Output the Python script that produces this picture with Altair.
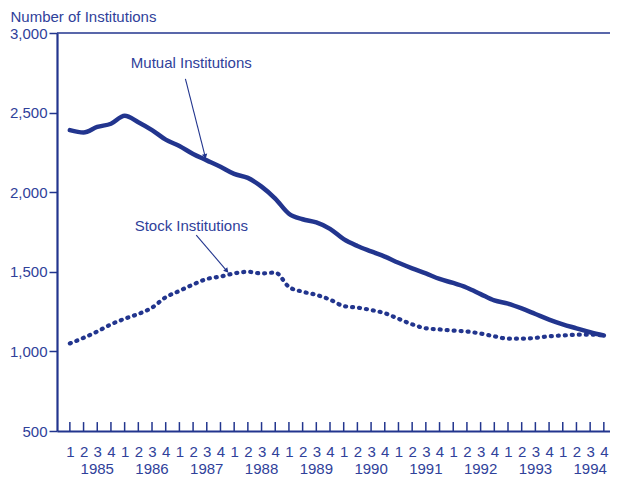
import altair as alt
import pandas as pd

years = [str(y) for y in range(1985, 1995)]
quarters = [1, 2, 3, 4]

mutual = [2390, 2375, 2410, 2430,
          2480, 2440, 2390, 2330,
          2290, 2240, 2200, 2160,
          2115, 2090, 2035, 1960,
          1865, 1830, 1810, 1770,
          1705, 1662, 1628, 1595,
          1557, 1522, 1490, 1455,
          1430, 1400, 1360, 1320,
          1300, 1270, 1235, 1200,
          1170, 1145, 1120, 1100]

stock = [1050, 1085, 1125, 1170,
         1205, 1235, 1275, 1340,
         1380, 1420, 1455, 1470,
         1490, 1500, 1490, 1495,
         1405, 1375, 1355, 1325,
         1285, 1275, 1260, 1240,
         1205, 1170, 1145, 1138,
         1131, 1125, 1112, 1095,
         1080, 1080, 1085, 1095,
         1100, 1105, 1105, 1100]

y_ticks = [500, 1000, 1500, 2000, 2500, 3000]

# annotation labels (x in quarter index units, y in data units)
ann_text = ["Mutual Institutions", "Stock Institutions"]
ann_x = [8.87, 8.87]
ann_y = [2810, 1790]
arrow_x = [8.44, 9.23]
arrow_y = [2712, 1731]
arrow_x2 = [9.88, 11.46]
arrow_y2 = [2225, 1506]
arrow_angle = [345.6, 319.3]

NAVY = "#22358e"
TXT = "#2f419a"
FONT = "Liberation Sans"

n = len(mutual)
idx = list(range(n))
df = pd.DataFrame({
    "i": idx * 2,
    "value": mutual + stock,
    "series": ["Mutual"] * n + ["Stock"] * n,
})
qdf = pd.DataFrame({"i": idx, "lo": [500] * n, "hi": [556] * n})
ydf = pd.DataFrame({"year": years, "i": [4 * k + 2 for k in range(len(years))]})
adf = pd.DataFrame({"text": ann_text, "x": ann_x, "y": ann_y,
                    "ax": arrow_x, "ay": arrow_y, "ax2": arrow_x2, "ay2": arrow_y2,
                    "ang": arrow_angle})
topdf = pd.DataFrame({"v": [3000]})

W, H = 553, 398
xscale = alt.Scale(domain=[-0.94, 39.45], nice=False, zero=False)
yscale = alt.Scale(domain=[500, 3000], nice=False, zero=False)

x_axis = alt.Axis(values=idx, labelExpr="(datum.value % 4) + 1", ticks=False,
                  domain=True, domainColor=NAVY, domainWidth=2.2, grid=False,
                  labelFont=FONT, labelFontSize=15, labelColor=TXT, labelPadding=13,
                  labelFlush=False, labelOverlap=False, labelBound=False, title=None)
y_axis = alt.Axis(values=y_ticks, format=",.0f", ticks=True, tickSize=8, tickColor=NAVY,
                  tickWidth=1.5, domain=True, domainColor=NAVY, domainWidth=2.2,
                  grid=False, labelFont=FONT, labelFontSize=15, labelColor=TXT,
                  labelPadding=2, labelFlush=False, labelOverlap=False,
                  title="Number of Institutions", titleAngle=0,
                  titleAlign="left", titleBaseline="alphabetic", titleX=-47, titleY=-12,
                  titleFont=FONT, titleFontSize=15, titleFontWeight="normal",
                  titleColor=TXT)

X = lambda f: alt.X(f, scale=xscale, axis=x_axis)
Y = lambda f: alt.Y(f, scale=yscale, axis=y_axis)

mut = alt.Chart(df).transform_filter(alt.datum.series == "Mutual").mark_line(
    color=NAVY, strokeWidth=4.5, interpolate="monotone", strokeCap="round"
).encode(x=X("i:Q"), y=Y("value:Q"))

stk = alt.Chart(df).transform_filter(alt.datum.series == "Stock").mark_line(
    color=NAVY, strokeWidth=4.2, interpolate="monotone", strokeCap="round",
    strokeDash=[1, 6]
).encode(x=X("i:Q"), y=Y("value:Q"))

qticks = alt.Chart(qdf).mark_rule(color=NAVY, strokeWidth=1.5).encode(
    x=X("i:Q"), y=Y("lo:Q"), y2="hi:Q")

top = alt.Chart(topdf).mark_rule(color=NAVY, strokeWidth=1.6).encode(y=Y("v:Q"))

yrs = alt.Chart(ydf).mark_text(font=FONT, fontSize=15, color=TXT, baseline="middle",
                               dx=0).encode(
    x=X("i:Q"), y=alt.value(H + 38), text="year:N")

labels = alt.Chart(adf).mark_text(font=FONT, fontSize=15, color=TXT,
                                  baseline="middle").encode(
    x=X("x:Q"), y=Y("y:Q"), text="text:N")

arrows = alt.Chart(adf).mark_rule(color=NAVY, strokeWidth=1.1).encode(
    x=X("ax:Q"), y=Y("ay:Q"), x2="ax2:Q", y2="ay2:Q")

heads = alt.Chart(adf).mark_point(shape="triangle-down", filled=True, color=NAVY,
                                  size=30, opacity=1).encode(
    x=X("ax2:Q"), y=Y("ay2:Q"), angle=alt.Angle("ang:Q", scale=None))

chart = alt.layer(mut, top, qticks, stk, arrows, heads, labels, yrs).properties(
    width=W, height=H,
    autosize=alt.AutoSizeParams(type="none"),
    padding={"left": 49, "top": 25, "right": 0, "bottom": 47},
    background="white",
).configure_view(stroke=None)

chart.save("out.html", embed_options={"renderer": "svg", "actions": False})
